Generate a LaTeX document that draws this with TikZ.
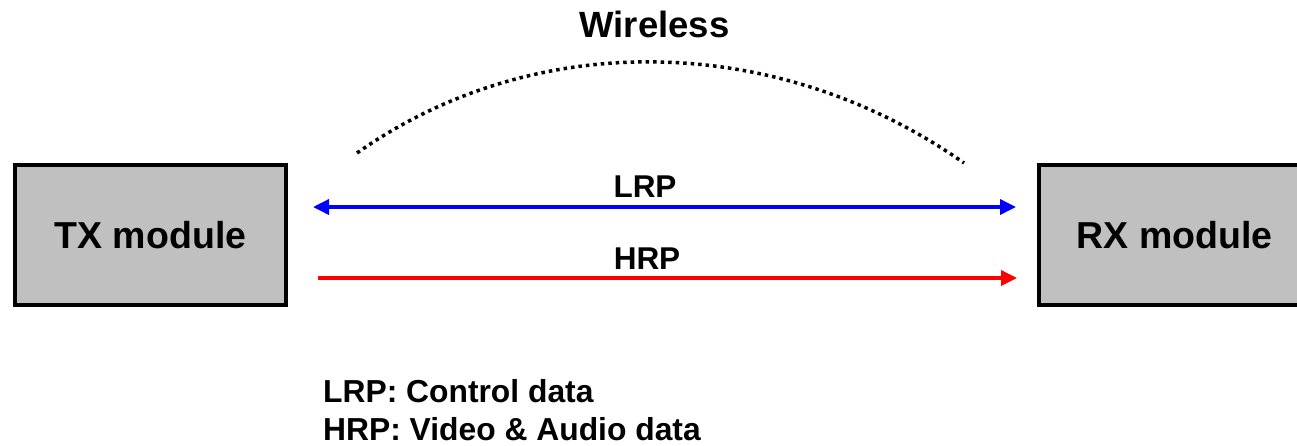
\documentclass[tikz,border=0pt]{standalone}
\usepackage{fontspec}
\setmainfont{Liberation Sans}
\usetikzlibrary{arrows.meta}
\definecolor{boxgray}{HTML}{C0C0C0}
\definecolor{lrpblue}{HTML}{0000FF}
\definecolor{hrpred}{HTML}{FF0000}
\begin{document}
\begin{tikzpicture}[x=1pt,y=-1pt,
  module/.style={draw=black, line width=4pt, fill=boxgray, inner sep=0pt,
    minimum width=271pt, minimum height=140pt,
    font=\fontsize{37.5}{40}\selectfont\bfseries},
  lbl/.style={inner sep=0pt, anchor=base, font=\fontsize{31.5}{34}\selectfont\bfseries},
  link/.style={line width=3.5pt, -{Triangle[length=16pt,width=15pt]}},
  radio/.style={line width=3.5pt, dash pattern=on 3.5pt off 4pt}
]
\useasboundingbox (0,0) rectangle (1297,445);

\node[module] (tx) at (150.5,235) {TX module};
\node[module] (rx) at (1174.5,235) {RX module};

\node[lbl, font=\fontsize{36.5}{40}\selectfont\bfseries] (wl) at (654.5,37) {Wireless};

\coordinate (arcL) at (357,153);
\coordinate (arcR) at (964,163);
\draw[radio] (arcL) .. controls (539,25) and (782,35) .. (arcR);

\draw[link, lrpblue, {Triangle[length=16pt,width=15pt]}-{Triangle[length=16pt,width=15pt]},
  shorten <=25pt, shorten >=21pt]
  ([yshift=28pt]tx.east) -- ([yshift=28pt]rx.west);
\draw[link, hrpred, shorten <=30pt, shorten >=20pt]
  ([yshift=-43pt]tx.east) -- ([yshift=-43pt]rx.west);

\node[lbl] (lrp) at (645,197) {LRP};
\node[lbl] (hrp) at (647,269) {HRP};

\node[lbl, anchor=base west, font=\fontsize{31.8}{38}\selectfont\bfseries] (leg1) at (323,402) {LRP: Control data};
\node[lbl, anchor=base west, font=\fontsize{31.8}{38}\selectfont\bfseries] (leg2) at (323,440) {HRP: Video \& Audio data};
\end{tikzpicture}
\end{document}
